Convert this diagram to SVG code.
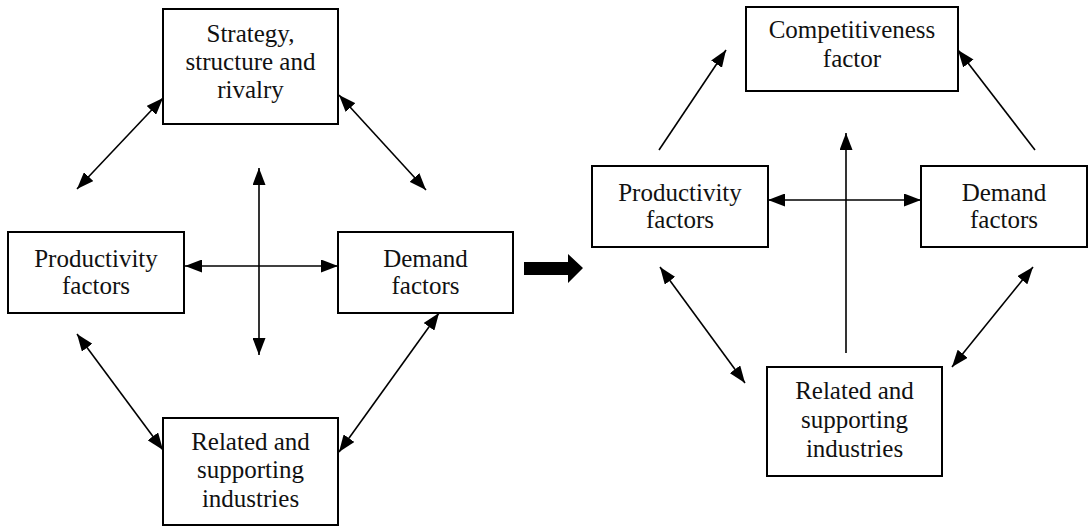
<svg xmlns="http://www.w3.org/2000/svg" width="1090" height="527" viewBox="0 0 1090 527">
<style>
.box{fill:#fff;stroke:#000;stroke-width:2}
text{font-family:'Liberation Serif','Times New Roman','DejaVu Serif',serif;font-size:25px;fill:#111;text-anchor:middle}
.c{stroke:#000;stroke-width:1.6;fill:none}
</style>
<defs>
<marker id="ah" viewBox="0 0 17 13" refX="17" refY="6.5" markerWidth="17" markerHeight="13" markerUnits="userSpaceOnUse" orient="auto-start-reverse">
<path d="M0,0 L17,6.5 L0,13 Z" fill="#000"/>
</marker>
</defs>
<rect width="1090" height="527" fill="#fff"/>
<g id="connectors">
<line class="c" x1="77" y1="189" x2="163" y2="98" marker-start="url(#ah)" marker-end="url(#ah)"/>
<line class="c" x1="339" y1="95" x2="426" y2="190" marker-start="url(#ah)" marker-end="url(#ah)"/>
<line class="c" x1="259" y1="168" x2="259" y2="355" marker-start="url(#ah)" marker-end="url(#ah)"/>
<line class="c" x1="185" y1="266" x2="338" y2="266" marker-start="url(#ah)" marker-end="url(#ah)"/>
<line class="c" x1="77" y1="334" x2="163" y2="450" marker-start="url(#ah)" marker-end="url(#ah)"/>
<line class="c" x1="439" y1="313" x2="339" y2="452" marker-start="url(#ah)" marker-end="url(#ah)"/>
<path d="M524,262 L568,262 L568,254 L583,268 L568,283 L568,275 L524,275 Z" fill="#000"/>
<line class="c" x1="659" y1="150" x2="726" y2="50" marker-end="url(#ah)"/>
<line class="c" x1="1035" y1="150" x2="958" y2="50" marker-end="url(#ah)"/>
<line class="c" x1="846" y1="353" x2="846" y2="133" marker-end="url(#ah)"/>
<line class="c" x1="768" y1="200" x2="921" y2="200" marker-start="url(#ah)" marker-end="url(#ah)"/>
<line class="c" x1="660" y1="267" x2="745" y2="383" marker-start="url(#ah)" marker-end="url(#ah)"/>
<line class="c" x1="1033" y1="267" x2="952" y2="367" marker-start="url(#ah)" marker-end="url(#ah)"/>
</g>
<g id="strategy">
<rect class="box" x="163" y="9" width="175" height="115"/>
<text x="250.5" y="42" font-family="Liberation Serif, serif">Strategy,</text>
<text x="250.5" y="70" font-family="Liberation Serif, serif">structure and</text>
<text x="250.5" y="98" font-family="Liberation Serif, serif">rivalry</text>
</g>
<g id="productivity-left">
<rect class="box" x="8" y="232" width="176" height="81"/>
<text x="96" y="267" font-family="Liberation Serif, serif">Productivity</text>
<text x="96" y="294" font-family="Liberation Serif, serif">factors</text>
</g>
<g id="demand-left">
<rect class="box" x="338" y="232" width="175" height="81"/>
<text x="425.5" y="267" font-family="Liberation Serif, serif">Demand</text>
<text x="425.5" y="294" font-family="Liberation Serif, serif">factors</text>
</g>
<g id="related-left">
<rect class="box" x="163" y="418" width="175" height="107"/>
<text x="250.5" y="450" font-family="Liberation Serif, serif">Related and</text>
<text x="250.5" y="478" font-family="Liberation Serif, serif">supporting</text>
<text x="250.5" y="507" font-family="Liberation Serif, serif">industries</text>
</g>
<g id="competitiveness">
<rect class="box" x="746" y="7" width="212" height="84"/>
<text x="852" y="38" font-family="Liberation Serif, serif">Competitiveness</text>
<text x="852" y="67" font-family="Liberation Serif, serif">factor</text>
</g>
<g id="productivity-right">
<rect class="box" x="592" y="166" width="176" height="81"/>
<text x="680" y="201" font-family="Liberation Serif, serif">Productivity</text>
<text x="680" y="228" font-family="Liberation Serif, serif">factors</text>
</g>
<g id="demand-right">
<rect class="box" x="921" y="166" width="166" height="81"/>
<text x="1004" y="201" font-family="Liberation Serif, serif">Demand</text>
<text x="1004" y="228" font-family="Liberation Serif, serif">factors</text>
</g>
<g id="related-right">
<rect class="box" x="767" y="367" width="175" height="109"/>
<text x="854.5" y="399" font-family="Liberation Serif, serif">Related and</text>
<text x="854.5" y="428" font-family="Liberation Serif, serif">supporting</text>
<text x="854.5" y="457" font-family="Liberation Serif, serif">industries</text>
</g>
</svg>
